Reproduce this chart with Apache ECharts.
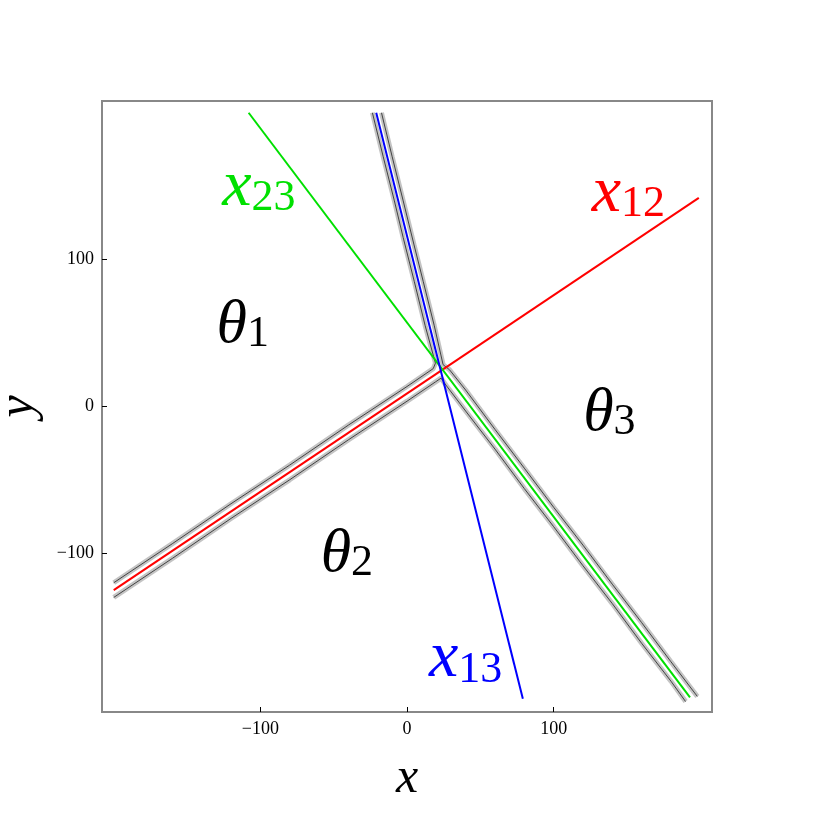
<!DOCTYPE html>
<html>
<head>
<meta charset="utf-8">
<script src="https://cdn.jsdelivr.net/npm/echarts@6/dist/echarts.min.js"></script>
<style>html,body{margin:0;padding:0;background:#fff;}#c{width:813px;height:813px;}</style>
</head>
<body>
<div id="c"></div>
<script>
// ---- data ----
const axisRange = [-208, 208];
const xTicks = [-100, 0, 100];
const yTicks = [-100, 0, 100];

// fitted boundary lines
const x12Line = [[-200, -125], [199, 142]];
const x23Line = [[-108, 200], [193, -198]];
const x13Line = [[-21, 200], [79, -199]];

// noisy region contours (grey/black edges)
const theta1Edge = [[-200, -120], [-160, -93.4], [-120, -66.2], [-80, -39.9], [-40, -12.7], [0, 13.6], [17.9, 25.8], [19.4, 29.5], [12.4, 55], [5.0, 85], [-2.6, 115], [-8.6, 140], [-16.2, 170], [-23.6, 200]];
const theta3Edge = [[-17.4, 200], [-10.1, 170], [-2.6, 140], [4.8, 110], [11.1, 85], [18.6, 55], [24.6, 28.5], [29.0, 25.0], [40, 11.2], [60, -15.6], [80, -42.0], [100, -68.6], [120, -94.4], [140, -121.0], [160, -147.1], [180, -173.8], [198, -197.4]];
const theta2Edge = [[-200, -130], [-160, -103.4], [-120, -76.2], [-80, -49.9], [-40, -22.7], [0, 3.6], [19.5, 16.8], [23.2, 19.3], [27, 14.0], [40, -3.1], [60, -29.0], [80, -55.9], [100, -81.8], [120, -108.4], [140, -134.2], [160, -161.2], [180, -187.0], [190, -200.9]];

// text labels: [x, y, base, subscript, colour]
const regionLabels = [[-112, 55, 'θ', '1', '#000'], [-41, -101, 'θ', '2', '#000'], [138, -5, 'θ', '3', '#000']];
const lineLabels = [[151, 145, 'x', '12', '#ff0000'], [-101, 149, 'x', '23', '#00e000'], [40, -172, 'x', '13', '#0000ff']];

// ---- chart ----
const FONT = 'Liberation Serif';
const chart = echarts.init(document.getElementById('c'), null, {renderer: 'canvas'});

function fmtTick(v) { return v < 0 ? '\u2212' + Math.abs(v) : String(v); }

function axis(name, ticks, isY) {
  return {
    type: 'value', min: axisRange[0], max: axisRange[1],
    name: name, nameLocation: 'middle', nameGap: isY ? 58 : 42,
    nameTextStyle: {fontFamily: FONT, fontStyle: 'italic', fontSize: 50, color: '#000'},
    axisLine: {show: false, onZero: false},
    splitLine: {show: false},
    axisTick: {show: true, inside: true, length: 5, customValues: ticks, lineStyle: {color: '#000', width: 1}},
    axisLabel: {show: true, customValues: ticks, formatter: fmtTick, fontFamily: FONT, fontSize: 18, color: '#000', margin: 8}
  };
}

function edgeSeries(data) {
  return [
    {type: 'line', data: data, symbol: 'none', silent: true, z: 2,
     lineStyle: {color: 'rgba(165,165,165,0.65)', width: 5}},
    {type: 'line', data: data, symbol: 'none', silent: true, z: 3,
     lineStyle: {color: '#333', width: 0.9}}
  ];
}

function lineSeries(data, color) {
  return {type: 'line', data: data, symbol: 'none', silent: true, z: 5,
          lineStyle: {color: color, width: 2}};
}

function labelSeries(items, baseSize, subSize) {
  return {
    type: 'scatter', symbolSize: 0, silent: true, z: 10,
    itemStyle: {opacity: 1, color: 'rgba(0,0,0,0)'},
    data: items.map(it => ({
      value: [it[0], it[1]],
      label: {
        show: true, position: 'inside', opacity: 1,
        formatter: '{b|' + it[2] + '}{s|' + it[3] + '}',
        rich: {
          b: {fontFamily: FONT, fontStyle: 'italic', fontSize: baseSize, color: it[4], verticalAlign: 'top', lineHeight: baseSize, padding: [0, 0, Math.round(baseSize * 0.2), 0]},
          s: {fontFamily: FONT, fontSize: subSize, color: it[4], verticalAlign: 'bottom', lineHeight: subSize}
        }
      }
    }))
  };
}

const series = [].concat(
  edgeSeries(theta1Edge), edgeSeries(theta2Edge), edgeSeries(theta3Edge),
  [lineSeries(x12Line, '#ff0000'), lineSeries(x23Line, '#00e000'), lineSeries(x13Line, '#0000ff'),
   labelSeries(regionLabels, 62, 44), labelSeries(lineLabels, 66, 44)]
);

chart.setOption({
  animation: false,
  backgroundColor: '#fff',
  grid: {left: 102, top: 101, width: 610, height: 611, show: true, borderColor: '#888', borderWidth: 2, containLabel: false, outerBoundsMode: 'none'},
  xAxis: axis('x', xTicks, false),
  yAxis: axis('y', yTicks, true),
  series: series
});
</script>
</body>
</html>
